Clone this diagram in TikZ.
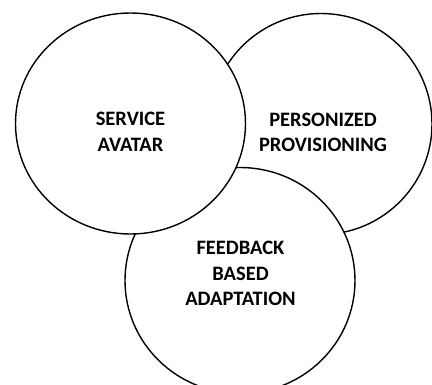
\documentclass[tikz,border=0pt]{standalone}
\usepackage{fontspec}
\setmainfont{Carlito}
\usetikzlibrary{shapes.geometric}
\begin{document}
\begin{tikzpicture}[x=1pt,y=-1pt,
  area/.style={ellipse,draw=black,fill=white,line width=1.4pt,inner sep=0pt},
  label/.style={align=center,inner sep=0pt,
    font=\bfseries\fontsize{20.5}{25.5}\selectfont}]
  \useasboundingbox (0,0) rectangle (432,385);
  % three overlapping areas, later ones drawn on top
  \node[area,minimum width=222,minimum height=221] (prov) at (321,124) {};
  \node[area,minimum width=230,minimum height=226] (feed) at (240,280.5) {};
  \node[area,minimum width=230,minimum height=221] (serv) at (130.5,123.5) {};
  % labels
  \node[label] (servt) at (130.5,132) {SERVICE\\AVATAR};
  \node[label] (provt) at (323,132.4) {PERSONIZED\\PROVISIONING};
  \node[label] (feedt) at (240.5,273.5) {FEEDBACK\\BASED\\ADAPTATION};
\end{tikzpicture}
\end{document}
